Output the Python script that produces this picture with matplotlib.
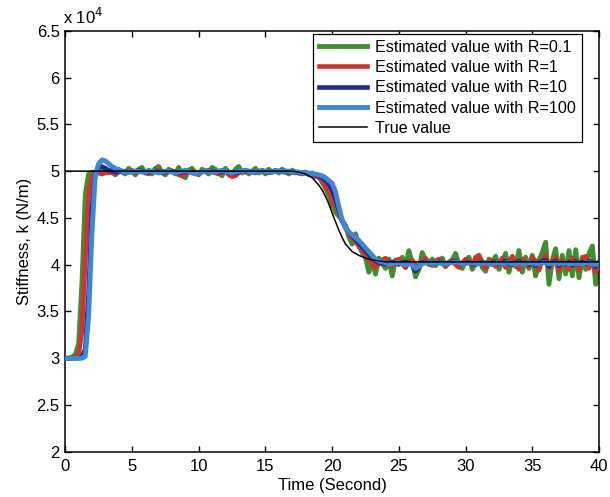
#=== BIBLIOTECAS ===
import numpy as np
import matplotlib
matplotlib.use("Agg")
import matplotlib.pyplot as plt

#=== Dados (rigidez em unidades de 10^4 N/m) ===
t = np.linspace(0, 40, 161) # tempo em segundos, passo de 0.25 s

# valor verdadeiro da rigidez
k_true = [
    5.00, 5.00, 5.00, 5.00, 5.00, 5.00, 5.00, 5.00,  # 0-2 s
    5.00, 5.00, 5.00, 5.00, 5.00, 5.00, 5.00, 5.00,
    5.00, 5.00, 5.00, 5.00, 5.00, 5.00, 5.00, 5.00,
    5.00, 5.00, 5.00, 5.00, 5.00, 5.00, 5.00, 5.00,
    5.00, 5.00, 5.00, 5.00, 5.00, 5.00, 5.00, 5.00,  # 8-10 s
    5.00, 5.00, 5.00, 5.00, 5.00, 5.00, 5.00, 5.00,
    5.00, 5.00, 5.00, 5.00, 5.00, 5.00, 5.00, 5.00,
    5.00, 5.00, 5.00, 5.00, 5.00, 5.00, 5.00, 5.00,
    5.00, 5.00, 5.00, 5.00, 5.00, 4.995, 4.99, 4.98, # 16-18 s
    4.97, 4.95, 4.93, 4.89, 4.85, 4.80, 4.73, 4.65,
    4.55, 4.46, 4.37, 4.29, 4.22, 4.18, 4.14, 4.12,  # 20-22 s
    4.10, 4.085, 4.07, 4.06, 4.05, 4.045, 4.04, 4.035,
    4.03, 4.03, 4.03, 4.03, 4.03, 4.03, 4.03, 4.03,  # 24-26 s
    4.03, 4.03, 4.03, 4.03, 4.03, 4.03, 4.03, 4.03,
    4.03, 4.03, 4.03, 4.03, 4.03, 4.03, 4.03, 4.03,
    4.03, 4.03, 4.03, 4.03, 4.03, 4.03, 4.03, 4.03,
    4.03, 4.03, 4.03, 4.03, 4.03, 4.03, 4.03, 4.03,  # 32-34 s
    4.03, 4.03, 4.03, 4.03, 4.03, 4.03, 4.03, 4.03,
    4.03, 4.03, 4.03, 4.03, 4.03, 4.03, 4.03, 4.03,
    4.03, 4.03, 4.03, 4.03, 4.03, 4.03, 4.03, 4.03,
    4.03]

# estimativa com R = 0.1
k_r01 = [
    3.00, 3.00, 3.01, 3.04, 3.15, 3.80, 4.75, 4.97,
    4.99, 4.96, 5.02, 4.97, 5.03, 4.98, 5.01, 4.96,
    5.02, 4.99, 4.97, 5.03, 5.00, 4.96, 5.02, 5.04,
    4.98, 5.01, 4.97, 5.03, 5.05, 4.99, 4.96, 5.02,
    5.00, 4.97, 5.04, 4.95, 4.93, 5.01, 5.03, 4.98,
    4.96, 5.02, 5.00, 4.97, 5.04, 5.02, 4.98, 4.95,
    5.03, 4.99, 4.96, 5.02, 5.05, 4.98, 5.01, 4.97,
    5.00, 5.03, 4.98, 5.01, 4.97, 5.02, 4.99, 5.01,
    4.98, 5.02, 5.00, 4.97, 5.01, 4.99, 4.98, 4.97,
    4.99, 4.96, 4.98, 4.94, 4.95, 4.88, 4.82, 4.74,
    4.64, 4.56, 4.52, 4.47, 4.42, 4.30, 4.22, 4.33,
    4.20, 4.13, 4.08, 3.92, 4.04, 3.90, 4.07, 4.02,
    3.96, 4.06, 3.88, 4.05, 4.00, 4.08, 3.97, 4.15,
    4.02, 3.87, 3.95, 4.13, 4.04, 4.00, 4.06, 3.99,
    4.03, 4.07, 3.98, 4.02, 4.05, 4.12, 4.00, 3.96,
    4.04, 4.08, 3.95, 4.02, 4.10, 3.97, 3.93, 4.06,
    4.00, 4.09, 3.95, 4.03, 4.12, 3.92, 4.06, 3.98,
    4.15, 3.92, 4.08, 3.96, 4.10, 3.88, 4.05, 4.13,
    4.24, 3.79, 4.05, 4.17, 3.85, 4.10, 3.90, 4.15,
    3.88, 4.16, 3.86, 4.08, 3.95, 4.12, 4.20, 3.79,
    4.02]

# estimativa com R = 1
k_r1 = [
    3.00, 3.00, 3.00, 3.01, 3.03, 3.30, 4.05, 4.75,
    4.95, 4.97, 4.98, 4.97, 4.98, 4.99, 4.98, 4.97,
    4.99, 5.00, 4.98, 4.99, 5.01, 4.98, 4.99, 5.00,
    4.98, 4.97, 4.99, 5.00, 5.01, 4.99, 4.98, 4.99,
    5.00, 4.98, 4.96, 4.95, 4.97, 4.99, 5.00, 4.99,
    4.98, 4.99, 5.00, 5.01, 4.99, 4.98, 4.97, 4.99,
    5.00, 4.96, 4.94, 4.95, 4.98, 5.00, 4.99, 5.00,
    4.99, 4.98, 5.00, 4.99, 5.00, 4.98, 4.99, 5.00,
    5.00, 4.99, 4.99, 5.00, 4.99, 4.98, 4.99, 4.98,
    4.98, 4.97, 4.96, 4.95, 4.93, 4.90, 4.85, 4.78,
    4.70, 4.62, 4.56, 4.47, 4.39, 4.33, 4.28, 4.24,
    4.20, 4.15, 4.11, 4.06, 4.00, 3.97, 4.02, 4.05,
    4.07, 4.03, 3.98, 4.04, 4.06, 4.01, 3.97, 4.03,
    4.05, 4.00, 3.96, 4.04, 4.07, 4.02, 3.99, 4.04,
    4.06, 4.01, 3.98, 4.03, 4.05, 4.00, 3.97, 4.02,
    4.06, 4.04, 3.99, 4.08, 4.10, 4.03, 3.96, 4.01,
    4.05, 3.98, 4.02, 4.07, 3.97, 4.03, 4.09, 4.00,
    3.95, 4.06, 4.02, 3.97, 4.08, 4.04, 3.94, 4.05,
    4.10, 3.96, 4.03, 4.08, 3.93, 4.05, 4.00, 3.95,
    4.07, 4.02, 3.94, 4.06, 4.09, 3.96, 4.03, 3.92,
    4.01]

# estimativa com R = 10
k_r10 = [
    3.00, 3.00, 3.00, 3.00, 3.00, 3.01, 3.10, 3.70,
    4.60, 4.97, 5.04, 5.05, 5.03, 5.01, 5.00, 4.99,
    4.99, 5.00, 5.00, 4.99, 4.99, 5.00, 5.01, 5.00,
    4.99, 4.99, 5.00, 5.00, 4.99, 4.98, 4.99, 5.00,
    5.00, 4.99, 4.98, 4.99, 5.00, 5.00, 4.99, 4.98,
    4.98, 4.99, 5.00, 5.00, 5.00, 4.99, 4.99, 5.00,
    5.00, 4.99, 4.98, 4.98, 4.99, 5.00, 5.00, 5.00,
    4.99, 4.99, 5.00, 5.00, 5.00, 4.99, 4.99, 5.00,
    5.00, 5.00, 4.99, 4.99, 4.99, 4.99, 4.98, 4.98,
    4.98, 4.97, 4.97, 4.96, 4.95, 4.93, 4.90, 4.86,
    4.80, 4.70, 4.58, 4.47, 4.40, 4.35, 4.31, 4.27,
    4.23, 4.19, 4.15, 4.11, 4.07, 4.04, 4.02, 4.01,
    4.01, 4.02, 4.03, 4.02, 4.01, 4.02, 4.03, 4.02,
    4.00, 3.93, 3.97, 4.02, 4.03, 4.02, 4.01, 4.02,
    4.03, 4.02, 4.01, 4.02, 4.03, 4.04, 4.02, 4.01,
    4.02, 4.03, 4.01, 4.00, 4.02, 4.03, 4.02, 4.01,
    4.02, 4.03, 4.01, 4.02, 4.04, 4.01, 4.00, 4.02,
    4.04, 4.01, 4.02, 4.00, 4.03, 3.99, 4.02, 4.04,
    4.05, 3.98, 4.02, 4.04, 3.99, 4.03, 4.01, 4.03,
    3.99, 4.04, 4.00, 4.03, 4.01, 4.04, 4.02, 3.98,
    4.02]

# estimativa com R = 100
k_r100 = [
    3.00, 3.00, 3.00, 3.00, 3.00, 3.00, 3.02, 3.45,
    4.35, 4.95, 5.08, 5.12, 5.11, 5.08, 5.05, 5.03,
    5.01, 5.00, 4.99, 4.99, 4.99, 5.00, 5.00, 4.99,
    4.99, 5.00, 5.00, 4.99, 4.98, 4.99, 5.00, 5.00,
    4.99, 4.98, 4.99, 5.00, 5.01, 5.00, 4.98, 4.97,
    4.98, 4.99, 5.00, 5.00, 4.99, 4.99, 5.00, 5.01,
    5.00, 4.99, 4.98, 4.99, 5.00, 5.00, 5.01, 5.00,
    4.99, 4.99, 5.00, 5.00, 5.00, 4.99, 4.99, 5.00,
    5.00, 5.00, 5.00, 5.00, 4.99, 4.99, 4.99, 4.98,
    4.98, 4.98, 4.97, 4.97, 4.96, 4.95, 4.93, 4.90,
    4.87, 4.78, 4.62, 4.48, 4.40, 4.35, 4.32, 4.29,
    4.26, 4.22, 4.18, 4.14, 4.10, 4.06, 4.04, 4.03,
    4.02, 4.01, 4.01, 4.02, 4.02, 4.01, 4.00, 4.01,
    4.00, 3.96, 3.98, 4.01, 4.02, 4.02, 4.01, 4.02,
    4.02, 4.01, 4.01, 4.02, 4.02, 4.03, 4.02, 4.01,
    4.01, 4.02, 4.02, 4.01, 4.01, 4.02, 4.02, 4.01,
    4.01, 4.02, 4.02, 4.01, 4.02, 4.02, 4.01, 4.01,
    4.02, 4.01, 4.01, 4.02, 4.02, 4.01, 4.01, 4.02,
    4.02, 4.01, 4.01, 4.02, 4.01, 4.02, 4.02, 4.01,
    4.01, 4.02, 4.01, 4.01, 4.02, 4.02, 4.01, 4.00,
    4.01]

#=== Estilo (parecido com figuras do MATLAB) ===
plt.rcParams['font.family'] = ['Liberation Sans', 'DejaVu Sans']
plt.rcParams['font.size'] = 12

fig = plt.figure(figsize=(6.1, 4.97), dpi=100)
ax = fig.add_axes([0.107, 0.091, 0.875, 0.847])

# Plota as estimativas (da mais ruidosa para a mais suave)
ax.plot(t, k_r01, color='#3f8f2f', lw=3.5, label='Estimated value with R=0.1', zorder=2)
ax.plot(t, k_r1, color='#d2322d', lw=3.3, label='Estimated value with R=1', zorder=3)
ax.plot(t, k_r10, color='#1f2d8a', lw=3.3, label='Estimated value with R=10', zorder=4)
ax.plot(t, k_r100, color='#3d86d8', lw=3.5, label='Estimated value with R=100', zorder=5)
ax.plot(t, k_true, color='black', lw=1.1, label='True value', zorder=6)

#=== Eixos ===
ax.set_xlim(0, 40)
ax.set_ylim(2, 6.5)
ax.set_xticks(np.arange(0, 41, 5))
ax.set_yticks(np.arange(2, 6.6, 0.5))
ax.set_yticklabels(['2', '2.5', '3', '3.5', '4', '4.5', '5', '5.5', '6', '6.5'])
ax.tick_params(direction='in', length=4, width=1, top=True, right=True, labelsize=12)
ax.tick_params(axis='x', pad=5)
ax.tick_params(axis='y', pad=4)
for s in ax.spines.values():
    s.set_linewidth(1.1)

ax.set_xlabel('Time (Second)', fontsize=12, labelpad=3)
ax.set_ylabel('Stiffness, k (N/m)', fontsize=12, labelpad=3)
ax.text(-0.005, 1.008, r'x 10$^4$', transform=ax.transAxes, fontsize=12, va='bottom', ha='left')

# Detalhes da legenda
leg = ax.legend(loc='upper right', bbox_to_anchor=(0.968, 0.992), borderaxespad=0,
                fontsize=11.6, handlelength=3.0, labelspacing=0.33,
                fancybox=False, edgecolor='black', framealpha=1,
                borderpad=0.35, handletextpad=0.5)
leg.get_frame().set_linewidth(0.9)

plt.savefig('out.png', dpi=100)
